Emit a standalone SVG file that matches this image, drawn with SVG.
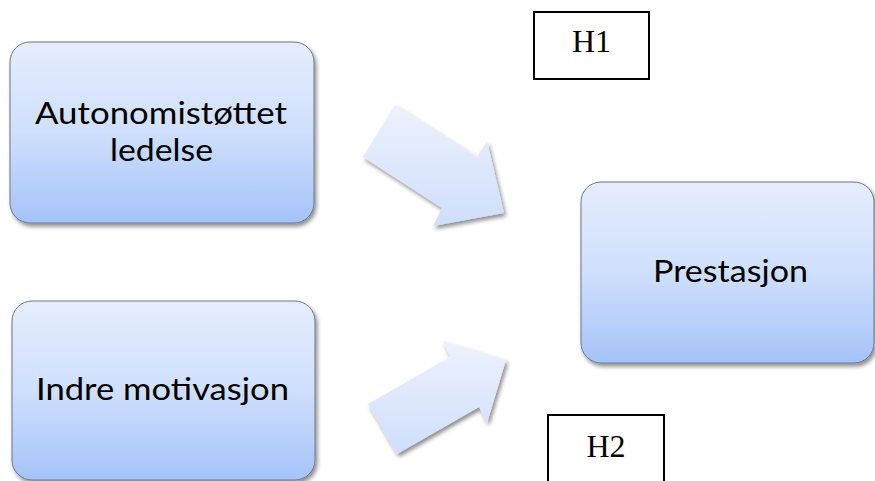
<svg xmlns="http://www.w3.org/2000/svg" width="875" height="481" viewBox="0 0 875 481">
<defs>
<linearGradient id="boxGrad" x1="0" y1="0" x2="0" y2="1">
<stop offset="0" stop-color="#e5edfd"/>
<stop offset="0.5" stop-color="#cfdffc"/>
<stop offset="1" stop-color="#a5c3f8"/>
</linearGradient>
<linearGradient id="arrGrad" x1="0" y1="0" x2="0" y2="1">
<stop offset="0" stop-color="#edf2fd"/>
<stop offset="1" stop-color="#cfdefb"/>
</linearGradient>
<filter id="shadow" x="-10%" y="-10%" width="125%" height="130%">
<feGaussianBlur in="SourceAlpha" stdDeviation="2"/>
<feOffset dx="2" dy="3" result="b"/>
<feComponentTransfer><feFuncA type="linear" slope="0.45"/></feComponentTransfer>
<feMerge><feMergeNode/><feMergeNode in="SourceGraphic"/></feMerge>
</filter>
</defs>
<style>
.box{fill:url(#boxGrad);stroke:#6f7786;stroke-width:1;filter:url(#shadow)}
.arr{fill:url(#arrGrad);stroke:none;filter:url(#shadow)}
.lbl{font-family:Lato,"Open Sans","Liberation Sans",sans-serif;font-size:30px;fill:#000;text-anchor:middle}
.hbox{fill:#fff;stroke:#000;stroke-width:2}
.h{font-family:"Liberation Serif","Times New Roman",serif;font-size:32px;fill:#000;text-anchor:middle}
</style>
<g id="connectors">
<polygon class="arr" points="395,105 477,157 487,141 504,213 433,226 442,208 363,157"/>
<polygon class="arr" points="368,404 450,357 443,341 506,360 487,423 479,407 397,454"/>
</g>
<g id="node-autonomi">
<rect class="box" x="10" y="42" width="304" height="181" rx="20" ry="20"/>
<text class="lbl" x="161" y="124" textLength="252" lengthAdjust="spacingAndGlyphs">Autonomistøttet</text>
<text class="lbl" x="161.5" y="161" textLength="103" lengthAdjust="spacingAndGlyphs">ledelse</text>
</g>
<g id="node-indre">
<rect class="box" x="12" y="301" width="303" height="179" rx="20" ry="20"/>
<text class="lbl" x="162.5" y="400" textLength="253" lengthAdjust="spacingAndGlyphs">Indre motivasjon</text>
</g>
<g id="node-prestasjon">
<rect class="box" x="581" y="182" width="293" height="181" rx="20" ry="20"/>
<text class="lbl" x="730.5" y="282" textLength="155" lengthAdjust="spacingAndGlyphs">Prestasjon</text>
</g>
<g id="node-h1">
<rect class="hbox" x="534" y="12" width="115" height="67"/>
<text class="h" x="591.5" y="52">H1</text>
</g>
<g id="node-h2">
<rect class="hbox" x="548" y="415" width="116" height="80"/>
<text class="h" x="606" y="457">H2</text>
</g>
</svg>
